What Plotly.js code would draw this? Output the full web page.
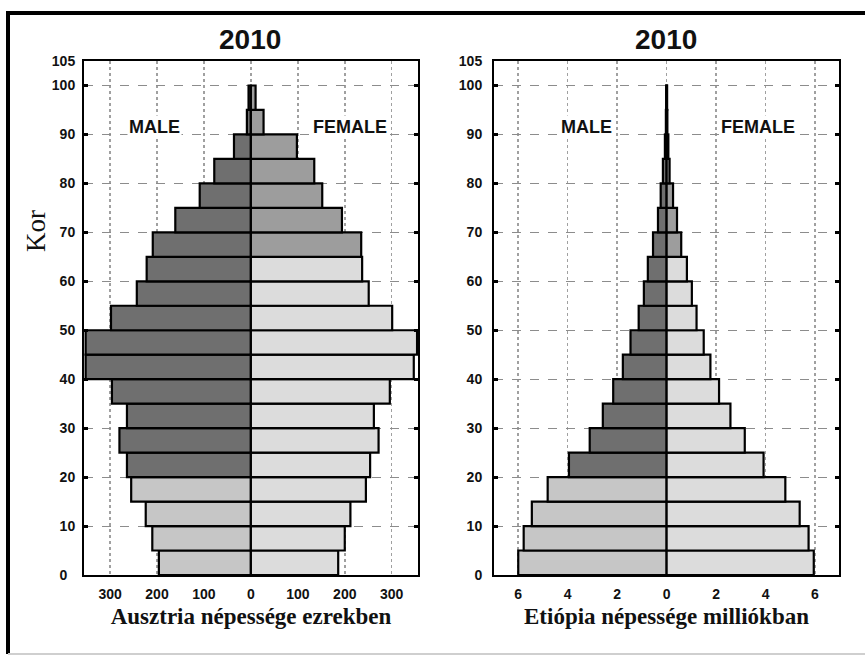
<!DOCTYPE html>
<html>
<head>
<meta charset="utf-8">
<script src="https://cdn.plot.ly/plotly-3.0.1.min.js"></script>
<style>html,body{margin:0;padding:0;background:#fff}#chart{width:865px;height:656px}</style>
</head>
<body>
<div id="chart"></div>
<script>
// Age groups (lower bound of each 5-year group)
const ageStart = [0,5,10,15,20,25,30,35,40,45,50,55,60,65,70,75,80,85,90,95];

// Austria, thousands
const austriaMale   = [196,210,224,255,264,280,264,296,352,352,298,243,222,209,161,109,78,36,8.5,5];
const austriaFemale = [186,200,212,245,254,272,262,296,347,354,301,251,237,235,194,152,135,98,27,10];

// Ethiopia, millions
const ethiopiaMale   = [6.0,5.78,5.45,4.81,3.95,3.11,2.58,2.16,1.77,1.46,1.13,0.92,0.76,0.55,0.35,0.24,0.15,0.07,0.03,0.02];
const ethiopiaFemale = [5.95,5.74,5.38,4.80,3.92,3.16,2.58,2.12,1.77,1.50,1.21,1.02,0.82,0.59,0.42,0.26,0.12,0.07,0.03,0.02];

// Tick labels
const yTicks = [0,10,20,30,40,50,60,70,80,90,100,105];
const yTickTextLeft = ['0\u2007','10','20','30','40','50','60','70','80','90','100','105'];
const yTickTextRight = ['0','10','20','30','40','50','60','70','80','90','100','105'];
const austriaTicks = [-300,-200,-100,0,100,200,300];
const austriaTickText = ['300','200','100','0','100','200','300'];
const ethiopiaTicks = [-6,-4,-2,0,2,4,6];
const ethiopiaTickText = ['6','4','2','0','2','4','6'];

const titleText = '2010';
const maleLabel = 'MALE', femaleLabel = 'FEMALE';
const yTitle = 'Kor';
const austriaTitle = 'Ausztria népessége ezrekben';
const ethiopiaTitle = 'Etiópia népessége milliókban';

// ---- styling ----
const W = 865, H = 656;
const px = v => v / W;
const py = v => 1 - v / H;
const DARK = '#6f6f6f', MID = '#9d9d9d', LIGHT_M = '#c6c6c6', LIGHT_F = '#dcdcdc';
const maleColors = ageStart.map(a => a >= 20 ? DARK : LIGHT_M);
const femaleColors = ageStart.map(a => a >= 65 ? MID : LIGHT_F);

function barTrace(vals, sign, colors, xa, ya) {
  return {
    type: 'bar', orientation: 'h',
    x: vals.map(v => sign * v), y: ageStart,
    base: 0, width: 5, offset: 0,
    xaxis: xa, yaxis: ya,
    marker: {color: colors, line: {color: '#000', width: 2.2}},
    hoverinfo: 'x+y'
  };
}

const traces = [
  barTrace(austriaMale, -1, maleColors, 'x', 'y'),
  barTrace(austriaFemale, 1, femaleColors, 'x', 'y'),
  barTrace(ethiopiaMale, -1, maleColors, 'x2', 'y2'),
  barTrace(ethiopiaFemale, 1, femaleColors, 'x2', 'y2')
];

const tickFont = {family: 'Liberation Sans, Arial, sans-serif', size: 14, color: '#111', weight: 'bold'};
const xTitleFont = {family: 'Liberation Serif, Times New Roman, serif', size: 23, color: '#111', weight: 'bold'};
const labelFont = {family: 'Liberation Sans, Arial, sans-serif', size: 18, color: '#111', weight: 'bold'};
const titleFont = {family: 'Liberation Sans, Arial, sans-serif', size: 28, color: '#111', weight: 'bold'};

function xAxis(domain, range, tv, tt, title) {
  return {
    domain: domain, range: range, tickvals: tv, ticktext: tt,
    showgrid: true, gridcolor: '#a0a0a0', griddash: 'dot', gridwidth: 1.5,
    zeroline: false, showline: true, linecolor: '#000', linewidth: 2, mirror: true,
    ticks: '', tickfont: tickFont, ticklabelstandoff: 5,
    title: {text: title, font: xTitleFont, standoff: 7},
    fixedrange: true, automargin: false
  };
}
function yAxis(anchor, tt, standoff) {
  return {
    domain: [py(575), py(61)], range: [0, 105], anchor: anchor,
    tickvals: yTicks, ticktext: tt,
    showgrid: true, gridcolor: '#8c8c8c', griddash: 'dash', gridwidth: 1,
    zeroline: false, showline: true, linecolor: '#000', linewidth: 2, mirror: 'ticks',
    ticks: 'inside', ticklen: 4, tickwidth: 3, tickcolor: '#000',
    tickfont: tickFont, ticklabelstandoff: standoff,
    fixedrange: true, automargin: false
  };
}

function label(text, x, y, font, extra) {
  return Object.assign({text: text, xref: 'paper', yref: 'paper', x: px(x), y: py(y),
    showarrow: false, xanchor: 'center', yanchor: 'middle', font: font}, extra || {});
}

const layout = {
  width: W, height: H,
  margin: {l: 0, r: 0, t: 0, b: 0, pad: 0},
  paper_bgcolor: '#fff', plot_bgcolor: '#fff',
  showlegend: false, bargap: 0,
  xaxis: xAxis([px(84), px(418)], [-355.5, 356], austriaTicks, austriaTickText, austriaTitle),
  yaxis: yAxis('x', yTickTextLeft, 4),
  xaxis2: xAxis([px(494), px(839)], [-6.98, 6.97], ethiopiaTicks, ethiopiaTickText, ethiopiaTitle),
  yaxis2: yAxis('x2', yTickTextRight, 7),
  shapes: [
    {type: 'line', xref: 'paper', yref: 'paper', x0: px(8), x1: 1, y0: py(13), y1: py(13), line: {color: '#000', width: 4}},
    {type: 'line', xref: 'paper', yref: 'paper', x0: px(8), x1: px(8), y0: py(11), y1: py(654), line: {color: '#000', width: 4}},
    {type: 'line', xref: 'paper', yref: 'paper', x0: px(8), x1: 1, y0: py(654), y1: py(654), line: {color: '#cfcfcf', width: 2}}
  ],
  annotations: [
    label(titleText, 250, 39, titleFont),
    label(titleText, 666, 39, titleFont),
    label(maleLabel, 154, 127, labelFont, {bgcolor: '#fff', borderpad: 1}),
    label(femaleLabel, 349.5, 127, labelFont, {bgcolor: '#fff', borderpad: 1}),
    label(maleLabel, 586, 127, labelFont, {bgcolor: '#fff', borderpad: 1}),
    label(femaleLabel, 758, 127, labelFont, {bgcolor: '#fff', borderpad: 1}),
    label(yTitle, 36, 231, {family: 'Liberation Serif, Times New Roman, serif', size: 27, color: '#111'}, {textangle: -90})
  ]
};

Plotly.newPlot('chart', traces, layout, {staticPlot: true, displayModeBar: false});
</script>
</body>
</html>
